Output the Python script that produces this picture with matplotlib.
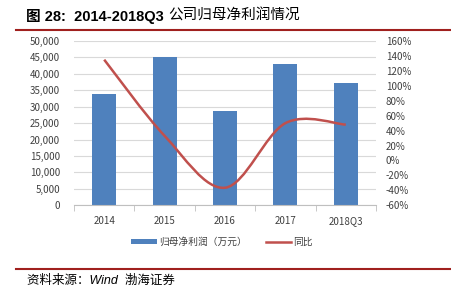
import matplotlib
matplotlib.use("Agg")
import matplotlib.pyplot as plt
import numpy as np
from matplotlib.path import Path
from matplotlib.patches import PathPatch, Patch
from matplotlib.lines import Line2D
from matplotlib.text import Annotation

plt.rcParams['font.family'] = ['Noto Sans CJK SC', 'DejaVu Sans']

categories = ["2014", "2015", "2016", "2017", "2018Q3"]
profit = [33900, 45200, 28700, 42900, 37200]          # 归母净利润（万元）
yoy = [1.35, 0.33, -0.365, 0.50, 0.48]                 # 同比
left_ticks = [0, 5000, 10000, 15000, 20000, 25000, 30000, 35000, 40000, 45000, 50000]
right_ticks = [-0.6, -0.4, -0.2, 0, 0.2, 0.4, 0.6, 0.8, 1.0, 1.2, 1.4, 1.6]

BLUE = "#4F81BD"
RED = "#C0504D"
DARKRED = "#A0201E"
GRID = "#D9D9D9"
TXT = "#404040"

fig = plt.figure(figsize=(4.51, 2.89), dpi=100)
ax = fig.add_axes([74/451, 1-205.3/289, (376-74)/451, (205.3-41)/289])
x = np.arange(len(categories))
ax.bar(x, profit, width=0.4, color=BLUE, zorder=2)
ax.set_xlim(-0.5, len(categories)-0.5)
ax.set_ylim(0, 50000)
ax.set_yticks(left_ticks)
ax.set_yticklabels([f"{v:,}" for v in left_ticks], fontsize=7, color=TXT)
ax.grid(axis='y', color=GRID, lw=0.8, zorder=0)
for s in ['left', 'right', 'top']:
    ax.spines[s].set_visible(False)
ax.spines['bottom'].set_color("#BFBFBF")
ax.tick_params(axis='y', length=0, pad=10)
ax.set_xticks(x)
ax.set_xticklabels(categories, fontsize=7, color=TXT)
ax.tick_params(axis='x', which='major', length=0, pad=8)
ax.set_xticks(np.arange(-0.5, len(categories), 1), minor=True)
ax.tick_params(axis='x', which='minor', length=4, color="#BFBFBF", direction='out')

ax2 = ax.twinx()
ax2.set_ylim(-0.6, 1.6)
ax2.set_yticks(right_ticks)
ax2.set_yticklabels([f"{round(v*100)}%" for v in right_ticks], fontsize=7, color=TXT)
ax2.tick_params(axis='y', length=0, pad=7)
for s in ['left', 'right', 'top', 'bottom']:
    ax2.spines[s].set_visible(False)

# Smoothed line (Excel-style Bezier through data points)
pts = np.column_stack([x, yoy]).astype(float)
ext = np.vstack([pts[0], pts, pts[-1]])
verts = [tuple(pts[0])]
codes = [Path.MOVETO]
for i in range(len(pts)-1):
    p0, p1, p2, p3 = ext[i], ext[i+1], ext[i+2], ext[i+3]
    c1 = p1 + (p2 - p0) / 6
    c2 = p2 - (p3 - p1) / 6
    verts += [tuple(c1), tuple(c2), tuple(p2)]
    codes += [Path.CURVE4]*3
ax2.add_patch(PathPatch(Path(verts, codes), fill=False, edgecolor=RED, lw=1.8, zorder=3))

# Title
t1 = fig.text(26/451, 1-16/289, "图 28:  2014-2018Q3", fontsize=10.5,
              fontweight='bold', va='center', ha='left', color='black',
              family=['Liberation Sans', 'Noto Sans CJK SC'])
fig.add_artist(Annotation("公司归母净利润情况", xy=(1, 0.5), xycoords=t1,
                          xytext=(3, 0), textcoords='offset points',
                          va='center', ha='left', fontsize=10.5, color='black',
                          family=['Noto Sans CJK SC']))
fig.add_artist(Line2D([16/451, 1.0], [1-29.5/289]*2, color=DARKRED, lw=1.5))

# Legend
handles = [Patch(facecolor=BLUE, edgecolor='none'), Line2D([0], [0], color=RED, lw=1.8)]
fig.legend(handles, ["归母净利润（万元）", "同比"], loc='center', bbox_to_anchor=(222/451, 1-242/289),
           ncol=2, frameon=False, fontsize=7, handlelength=2.6, handleheight=0.45,
           columnspacing=2.0, handletextpad=0.2, labelcolor=TXT)

# Footer
fig.add_artist(Line2D([16/451, 1.0], [1-269/289]*2, color=DARKRED, lw=1.5))
fig.text(27/451, 1-281/289, "资料来源：Wind  渤海证券", fontsize=9, style='italic',
         va='center', ha='left', color='black',
         family=['Liberation Sans', 'Noto Sans CJK SC'])

fig.savefig("out.png", dpi=100)
